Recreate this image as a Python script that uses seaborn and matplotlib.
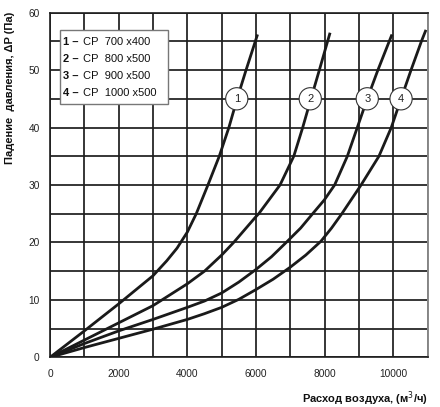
import matplotlib
matplotlib.use("Agg")
import matplotlib.pyplot as plt
import seaborn as sns
import pandas as pd
from matplotlib.patches import Rectangle

# ---- data ----
names = ["1", "2", "3", "4"]
legend_labels = ["СР  700 x400", "СР  800 x500", "СР  900 x500", "СР  1000 x500"]

x1 = [0, 1000, 2000, 3000, 3400, 3700, 4000, 4260, 4600, 4930, 5210, 5450, 5710, 5980, 6045]
y1 = [0, 4.6, 9.3, 14.2, 16.8, 19.0, 21.8, 25, 30, 35, 40, 45, 50, 55, 56.2]

x2 = [0, 1000, 2000, 3000, 4000, 4500, 5000, 5350, 6000, 6080, 6700, 7100, 7360, 7600, 7845, 8085, 8157]
y2 = [0, 3.0, 6.0, 9.0, 12.8, 15, 17.8, 20, 24.5, 25, 30, 35, 40, 45, 50, 55, 56.5]

x3 = [0, 1000, 2000, 3000, 4000, 4500, 5000, 5500, 6000, 6450, 6880, 7300, 7650, 7990, 8290, 8660, 8950, 9240, 9550, 9880, 9960]
y3 = [0, 2.4, 4.6, 6.6, 8.7, 9.8, 11.2, 13.1, 15.3, 17.5, 20, 22.5, 25, 27.4, 30, 35, 40, 45, 50, 55, 56.2]

x4 = [0, 1000, 2000, 3000, 4000, 4500, 5000, 5500, 6000, 6500, 7000, 7450, 7890, 8200, 8500, 9060, 9580, 9940, 10225, 10515, 10817, 10950]
y4 = [0, 1.7, 3.3, 4.9, 6.6, 7.6, 8.7, 10.1, 11.8, 13.6, 15.7, 17.8, 20.2, 22.5, 25, 30, 35, 40, 45, 50, 55, 57.0]

label_x = [5440, 7580, 9240, 10225]
label_y = 45

x_ticks = [0, 2000, 4000, 6000, 8000, 10000]
y_ticks = [0, 10, 20, 30, 40, 50, 60]

xs = [x1, x2, x3, x4]
ys = [y1, y2, y3, y4]

rows = []
for n, xx, yy in zip(names, xs, ys):
    for i, (a, b) in enumerate(zip(xx, yy)):
        rows.append({"series": n, "order": i, "x": a, "y": b})
df = pd.DataFrame(rows)

sns.set_style("white")
plt.rcParams["font.family"] = ["Liberation Sans", "DejaVu Sans"]

fig = plt.figure(figsize=(4.4, 4.07), dpi=100)
ax = fig.add_axes([0.1136, 0.122, 0.972 - 0.1136, 0.969 - 0.122])

ax.set_xlim(0, 11000)
ax.set_ylim(0, 60)

# grid
grid_color = "#1e1e1e"
for gx in range(0, 11001, 1000):
    ax.axvline(gx, color=grid_color, lw=1.25, zorder=1)
for gy in range(0, 61, 5):
    ax.axhline(gy, color=grid_color, lw=1.25, zorder=1)

sns.lineplot(data=df, x="x", y="y", hue="series", units="series", estimator=None,
             sort=False, palette=["#1a1a1a"] * 4, lw=2.0, legend=False, ax=ax, zorder=3)
for ln in ax.get_lines():
    ln.set_solid_joinstyle("round")
    ln.set_solid_capstyle("butt")

# curve labels (circles)
for n, lx in zip(names, label_x):
    ax.text(lx, label_y, n, ha="center", va="center", fontsize=8, color="#222",
            zorder=5,
            bbox=dict(boxstyle="circle,pad=0.55", fc="white", ec="#333", lw=0.8))

# legend box
rect = Rectangle((290, 44.05), 3160, 12.85, fc="white", ec="#777", lw=1.0, zorder=6)
ax.add_patch(rect)
leg_y = [54.9, 52.0, 49.0, 46.0]
for n, lab, ly in zip(names, legend_labels, leg_y):
    ax.text(390, ly, n + " \u2013", ha="left", va="center", fontsize=8,
            fontweight="bold", color="#111", zorder=7)
    ax.text(960, ly, lab, ha="left", va="center", fontsize=8, color="#111", zorder=7)

ax.set_xticks(x_ticks)
ax.set_yticks(y_ticks)
ax.set_xticklabels([str(t) for t in x_ticks], fontsize=7.3)
ax.set_yticklabels([str(t) for t in y_ticks], fontsize=7.3)
ax.tick_params(axis="x", which="major", length=3.5, width=0.8, color="#222",
               labelcolor="#222", pad=5)
ax.tick_params(axis="y", which="major", length=3.5, width=0.8, color="#222",
               labelcolor="#222", pad=4)

for s in ["left", "bottom", "top"]:
    ax.spines[s].set_color("#1e1e1e")
    ax.spines[s].set_linewidth(1.2)
ax.spines["right"].set_color("#888")
ax.spines["right"].set_linewidth(1.4)

ax.set_xlabel("")
ax.set_ylabel("")
fig.text(10 / 440, 1 - 12 / 407, "Падение  давления, \u0394P (Па)", rotation=90,
         ha="center", va="top", fontsize=8, fontweight="bold", color="#111")
fig.text(428 / 440, 1 - 399 / 407, "Расход воздуха, (м$^3$/ч)", ha="right", va="center",
         fontsize=8, fontweight="bold", color="#111")

fig.savefig("out.png", dpi=100)
